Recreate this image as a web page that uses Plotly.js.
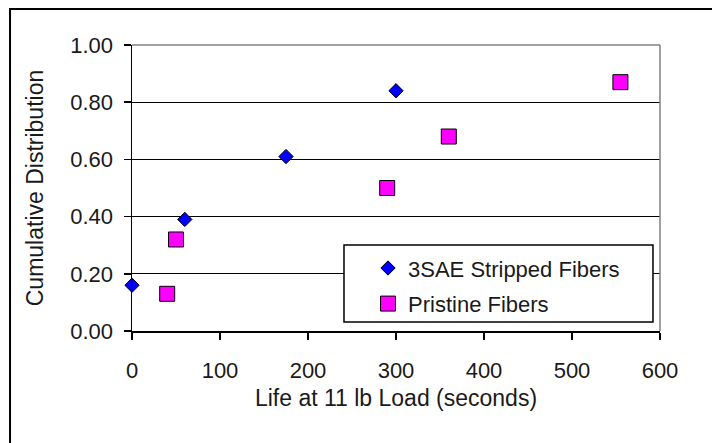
<!DOCTYPE html>
<html>
<head>
<meta charset="utf-8">
<script src="https://cdn.plot.ly/plotly-3.0.1.min.js"></script>
<style>html,body{margin:0;padding:0;background:#fff;}#chart{width:712px;height:443px;}</style>
</head>
<body>
<div id="chart"></div>
<script>
// Data
var strippedLife = [0, 60, 175, 300];
var strippedCum = [0.16, 0.39, 0.61, 0.84];
var pristineLife = [40, 50, 290, 360, 555];
var pristineCum = [0.13, 0.32, 0.50, 0.68, 0.87];
var seriesNames = ["3SAE Stripped Fibers", "Pristine Fibers"];
var xTicks = [0, 100, 200, 300, 400, 500, 600];
var yTicks = [0, 0.2, 0.4, 0.6, 0.8, 1.0];
var yTickText = ["0.00", "0.20", "0.40", "0.60", "0.80", "1.00"];

var FONT = "Liberation Sans, Arial, sans-serif";

var traces = [
  {
    x: strippedLife, y: strippedCum, name: seriesNames[0],
    type: "scatter", mode: "markers", legendgroup: "a", cliponaxis: false,
    marker: {symbol: "diamond", size: 11, color: "#0000FF", line: {color: "#000000", width: 1}}
  },
  {
    x: pristineLife, y: pristineCum, name: seriesNames[1],
    type: "scatter", mode: "markers", legendgroup: "b", cliponaxis: false,
    marker: {symbol: "square", size: 15, color: "#FF00FF", line: {color: "#000000", width: 1}}
  }
];

var layout = {
  width: 712, height: 443,
  margin: {l: 132, r: 52, t: 45, b: 112},
  paper_bgcolor: "#ffffff", plot_bgcolor: "#ffffff",
  font: {family: FONT, size: 22, color: "#1a1a1a"},
  showlegend: true,
  legend: {
    x: 0.447, y: 0.293, xanchor: "left", yanchor: "top",
    bgcolor: "rgba(0,0,0,0)", borderwidth: 0,
    traceorder: "grouped", tracegroupgap: 4,
    font: {family: FONT, size: 22, color: "#1a1a1a"}
  },
  xaxis: {
    range: [0, 600], tickvals: xTicks, ticktext: xTicks.map(String),
    showgrid: false, zeroline: false,
    showline: true, linecolor: "#000000", linewidth: 1.5,
    ticks: "outside", ticklen: 7, tickcolor: "#000000", tickwidth: 1.5,
    tickfont: {family: FONT, size: 22, color: "#1a1a1a"},
    ticklabelstandoff: 12,
    title: {text: "Life at 11 lb Load (seconds)", font: {family: FONT, size: 23, color: "#1a1a1a"}, standoff: 8},
    fixedrange: true
  },
  yaxis: {
    range: [0, 1], tickvals: yTicks, ticktext: yTickText,
    showgrid: true, gridcolor: "#000000", gridwidth: 1,
    zeroline: false,
    showline: true, linecolor: "#000000", linewidth: 1.5,
    ticks: "outside", ticklen: 7, tickcolor: "#000000", tickwidth: 1.5,
    tickfont: {family: FONT, size: 22, color: "#1a1a1a"},
    ticklabelstandoff: 6,
    title: {text: "Cumulative Distribution", font: {family: FONT, size: 23, color: "#1a1a1a"}, standoff: 20},
    fixedrange: true
  },
  shapes: [
    {type: "line", xref: "paper", yref: "paper", x0: 0, x1: 1, y0: 1, y1: 1, line: {color: "#808080", width: 1.5}, layer: "above"},
    {type: "line", xref: "paper", yref: "paper", x0: 1, x1: 1, y0: 0, y1: 1, line: {color: "#808080", width: 1.5}, layer: "above"},
    {type: "rect", xref: "paper", yref: "paper", x0: 0.4015, x1: 0.9867, y0: 0.0315, y1: 0.3007,
     fillcolor: "#ffffff", line: {color: "#000000", width: 1.5}, layer: "above"},
    {type: "rect", xref: "paper", yref: "paper", x0: -0.231, x1: 1.2, y0: -0.5, y1: 1.126,
     fillcolor: "rgba(0,0,0,0)", line: {color: "#000000", width: 2}, layer: "above"}
  ]
};

Plotly.newPlot("chart", traces, layout, {displayModeBar: false, staticPlot: true});
</script>
</body>
</html>
